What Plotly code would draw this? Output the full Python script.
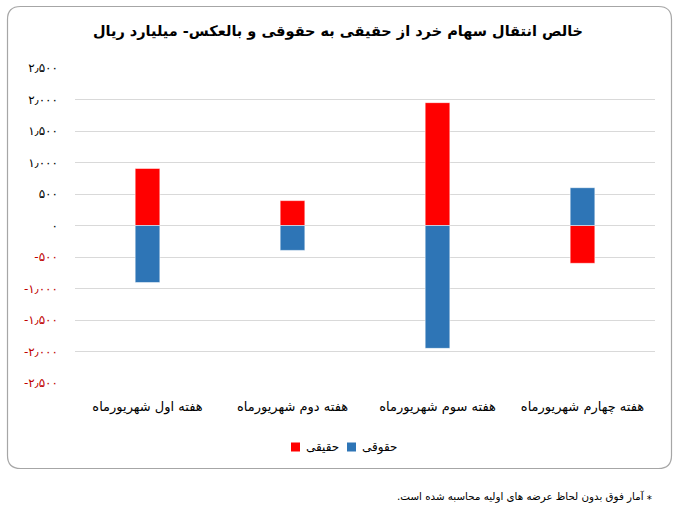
import plotly.graph_objects as go

categories = ["هفته اول شهریورماه", "هفته دوم شهریورماه", "هفته سوم شهریورماه", "هفته چهارم شهریورماه"]
haghighi = [905, 395, 1950, -600]     # حقیقی
hoghooghi = [-905, -395, -1950, 600]  # حقوقی
tick_vals = [2500, 2000, 1500, 1000, 500, 0, -500, -1000, -1500, -2000, -2500]
tick_labels = ["۲٫۵۰۰", "۲٫۰۰۰", "۱٫۵۰۰", "۱٫۰۰۰", "۵۰۰", "۰", "-۵۰۰", "-۱٫۰۰۰", "-۱٫۵۰۰", "-۲٫۰۰۰", "-۲٫۵۰۰"]
series_names = ["حقیقی", "حقوقی"]
series_colors = ["#FF0000", "#2E75B6"]

FONT = "DejaVu Sans"
W, H = 680, 511
L, R, T, B = 75, 655, 68, 383

def px(x):
    return (x - L) / (R - L)

def py(y):
    return (B - y) / (B - T)

ticktext = [
    (f'<span style="color:#C00000">{t}</span>' if v < 0 else t)
    for v, t in zip(tick_vals, tick_labels)
]

fig = go.Figure()
for name, vals, col in zip(series_names, [haghighi, hoghooghi], series_colors):
    fig.add_trace(go.Bar(x=categories, y=vals, name=name,
                         marker=dict(color=col, line=dict(color="white", width=0.5))))

# rounded frame
x0, y0, x1, y1, r = 7.5, 6.5, 671.5, 468.5, 13
path = (f"M {px(x0+r)},{py(y0)} L {px(x1-r)},{py(y0)} Q {px(x1)},{py(y0)} {px(x1)},{py(y0+r)} "
        f"L {px(x1)},{py(y1-r)} Q {px(x1)},{py(y1)} {px(x1-r)},{py(y1)} "
        f"L {px(x0+r)},{py(y1)} Q {px(x0)},{py(y1)} {px(x0)},{py(y1-r)} "
        f"L {px(x0)},{py(y0+r)} Q {px(x0)},{py(y0)} {px(x0+r)},{py(y0)} Z")

shapes = [dict(type="path", path=path, xref="paper", yref="paper",
               line=dict(color="#A6A6A6", width=1.2), fillcolor="rgba(0,0,0,0)", layer="below")]
annotations = []

# custom legend (swatch left of text, compact like the reference)
legend_x = [291, 347]
for lx, name, col in zip(legend_x, series_names, series_colors):
    shapes.append(dict(type="rect", xref="paper", yref="paper",
                       x0=px(lx), x1=px(lx + 9), y0=py(442.5), y1=py(451.5),
                       fillcolor=col, line=dict(width=0)))
    annotations.append(dict(text=name, x=px(lx + 13), y=py(447), xref="paper", yref="paper",
                            xanchor="left", yanchor="middle", showarrow=False,
                            font=dict(family=FONT, size=12, color="#000000")))

annotations.append(dict(text="\u202b⁎ آمار فوق بدون لحاظ عرضه های اولیه محاسبه شده است.\u202c",
                        x=px(654), y=py(496), xref="paper", yref="paper",
                        xanchor="right", yanchor="middle", showarrow=False,
                        font=dict(family=FONT, size=10.3, color="#000000")))

fig.update_layout(
    width=W, height=H,
    margin=dict(l=L, r=W - R, t=T, b=H - B),
    paper_bgcolor="white", plot_bgcolor="white",
    barmode="relative", bargap=0.83,
    font=dict(family=FONT, size=12, color="#000000"),
    title=dict(text="<b>\u202bخالص انتقال سهام خرد از حقیقی به حقوقی و بالعکس- میلیارد ریال\u202c</b>",
               x=338 / W, xref="container", xanchor="center", y=1 - 31 / H, yanchor="middle",
               font=dict(family=FONT, size=14.5, color="#000000")),
    xaxis=dict(showgrid=False, showline=False, ticks="", tickfont=dict(size=13),
               ticklabelstandoff=14),
    yaxis=dict(range=[-2500, 2500], tickvals=tick_vals, ticktext=ticktext,
               showgrid=True, gridcolor="#D9D9D9", gridwidth=1,
               zeroline=True, zerolinecolor="#D9D9D9", zerolinewidth=1,
               showline=False, ticks="", tickfont=dict(size=12),
               ticklabelstandoff=16),
    showlegend=False,
    shapes=shapes,
    annotations=annotations,
)

fig.write_html("out.html", config={"displayModeBar": False},
               post_script="document.body.style.margin='0';document.body.style.padding='0';")
